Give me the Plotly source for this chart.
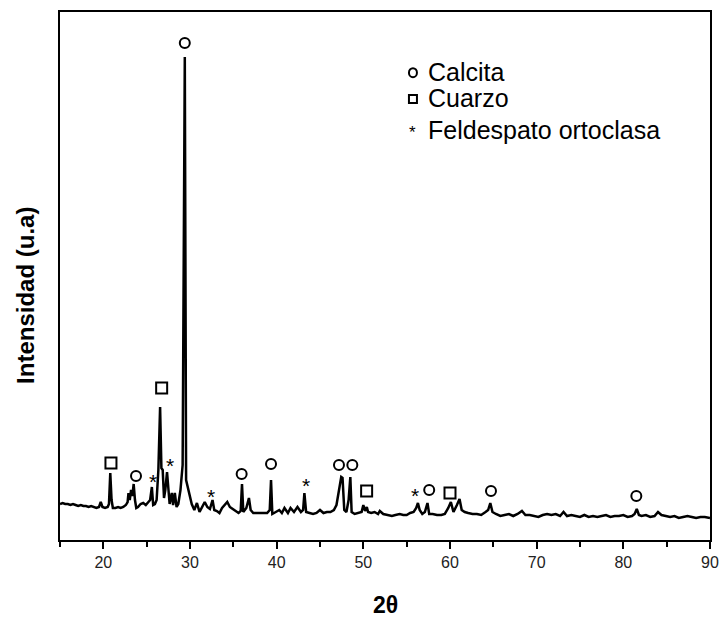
import plotly.graph_objects as go

# XRD trace (2theta, intensity in arbitrary units)
two_theta = [15.0, 15.3, 15.6, 15.9, 16.2, 16.5, 16.8, 17.1, 17.4, 17.7, 18.0, 18.3, 18.6, 18.9, 19.2, 19.5, 19.7, 19.9,
             20.2, 20.5, 20.65, 20.8, 20.95, 21.1, 21.4, 21.7, 22.0, 22.3, 22.6, 22.8, 22.9, 23.05, 23.2, 23.35, 23.5,
             23.65, 23.8, 24.0, 24.3, 24.6, 24.9, 25.2, 25.4, 25.6, 25.75, 25.95, 26.15, 26.35, 26.55, 26.7, 26.85,
             27.0, 27.15, 27.35, 27.5, 27.65, 27.9, 28.05, 28.25, 28.45, 28.65, 28.9, 29.15, 29.4, 29.55, 29.75,
             29.95, 30.2, 30.5, 30.8, 31.1, 31.4, 31.7, 32.0, 32.3, 32.6, 32.8, 33.1, 33.4, 33.7, 34.0, 34.3, 34.6,
             34.9, 35.2, 35.6, 35.85, 36.0, 36.15, 36.5, 36.8, 37.0, 37.3, 37.7, 38.1, 38.5, 38.9, 39.2, 39.35, 39.5,
             39.9, 40.3, 40.6, 40.9, 41.3, 41.6, 42.0, 42.4, 42.8, 43.05, 43.2, 43.4, 43.8, 44.2, 44.6, 45.0, 45.4,
             45.8, 46.2, 46.6, 46.9, 47.2, 47.45, 47.6, 47.8, 48.05, 48.3, 48.5, 48.65, 49.0, 49.4, 49.8, 50.0, 50.2,
             50.4, 50.55, 50.9, 51.3, 51.7, 51.9, 52.3, 52.8, 53.3, 53.7, 54.2, 54.6, 55.0, 55.4, 55.8, 56.1, 56.3,
             56.5, 56.8, 57.1, 57.4, 57.6, 58.0, 58.5, 59.0, 59.4, 59.8, 60.1, 60.4, 60.8, 61.1, 61.35, 61.7, 62.1,
             62.6, 63.1, 63.6, 64.1, 64.4, 64.65, 64.9, 65.3, 65.8, 66.3, 66.8, 67.3, 67.8, 68.3, 68.7, 69.2, 69.7,
             70.2, 70.7, 71.2, 71.7, 72.2, 72.7, 73.1, 73.5, 74.0, 74.5, 75.0, 75.5, 76.0, 76.5, 77.0, 77.5, 78.0,
             78.5, 79.0, 79.5, 80.0, 80.5, 81.0, 81.3, 81.55, 81.8, 82.1, 82.6, 83.1, 83.6, 84.0, 84.4, 84.9, 85.4,
             85.9, 86.4, 86.9, 87.4, 87.9, 88.4, 88.9, 89.4, 90.0]
intensity = [36, 37, 36, 36, 35, 36, 35, 34, 35, 34, 34, 33, 34, 33, 32, 33, 38, 33,
             32, 33, 36, 67, 40, 32, 32, 33, 32, 33, 35, 38, 47, 40, 50, 44, 56,
             40, 32, 33, 36, 37, 35, 38, 40, 53, 35, 36, 40, 70, 133, 72, 70,
             42, 50, 68, 46, 36, 47, 35, 47, 33, 36, 50, 75, 483, 60, 52,
             44, 36, 30, 37, 28, 33, 38, 33, 31, 40, 30, 29, 27, 32, 35, 38, 33,
             31, 29, 27, 29, 56, 28, 32, 42, 30, 27, 27, 27, 27, 27, 30, 60, 26,
             28, 30, 27, 32, 27, 32, 28, 33, 28, 30, 47, 28, 27, 26, 27, 30, 27,
             28, 28, 30, 35, 50, 63, 62, 30, 28, 40, 63, 28, 26, 27, 28, 35, 29,
             33, 28, 27, 28, 26, 29, 26, 25, 24, 25, 26, 25, 25, 27, 28, 32, 37,
             30, 26, 28, 37, 26, 26, 25, 25, 26, 32, 38, 28, 35, 41, 30, 28, 27,
             26, 26, 25, 28, 30, 37, 28, 26, 24, 25, 26, 24, 26, 29, 25, 25, 24,
             23, 25, 26, 25, 26, 24, 28, 24, 25, 24, 23, 25, 23, 24, 23, 24, 25,
             23, 24, 24, 25, 23, 24, 26, 31, 25, 24, 25, 23, 24, 28, 25, 24, 23,
             24, 22, 23, 24, 23, 22, 23, 23, 22]

# Phase markers (position in 2theta, height in same units)
calcita_x = [23.77, 29.4, 35.96, 39.35, 47.19, 48.73, 57.6, 64.73, 81.5]
calcita_y = [64, 497, 66, 76, 75, 75, 50, 49, 44]
cuarzo_x = [20.88, 26.73, 50.38, 60.0]
cuarzo_y = [77, 152, 49, 47]
feldespato_x = [25.77, 27.69, 32.42, 43.35, 55.96]
feldespato_y = [65, 81, 50, 61, 51]

legend_labels = ["Calcita", "Cuarzo", "Feldespato ortoclasa"]
x_ticks = [20, 30, 40, 50, 60, 70, 80, 90]

FONT = "Liberation Sans, Arial, sans-serif"

fig = go.Figure()
fig.add_trace(go.Scatter(x=two_theta, y=intensity, mode="lines",
                         line=dict(color="black", width=2.5), showlegend=False, hoverinfo="skip"))
fig.add_trace(go.Scatter(x=calcita_x, y=calcita_y, mode="markers", showlegend=False,
                         marker=dict(symbol="circle-open", size=10, color="black", line=dict(width=2, color="black"))))
fig.add_trace(go.Scatter(x=cuarzo_x, y=cuarzo_y, mode="markers", showlegend=False,
                         marker=dict(symbol="square-open", size=11, color="black", line=dict(width=2, color="black"))))

annotations = []
for xv, yv in zip(feldespato_x, feldespato_y):
    annotations.append(dict(x=xv, y=yv, xref="x", yref="y", text="*", showarrow=False,
                            font=dict(family=FONT, size=21, color="black"), yshift=-6))

# Manual legend
leg_x = 0.543
leg_ys = [0.886, 0.837, 0.777]
for lbl, ly in zip(legend_labels, leg_ys):
    annotations.append(dict(x=leg_x, y=ly, xref="paper", yref="paper", text=lbl, showarrow=False,
                            xanchor="left", yanchor="middle", xshift=13,
                            font=dict(family=FONT, size=25, color="black")))
annotations.append(dict(x=leg_x, y=leg_ys[2], xref="paper", yref="paper", text="*", showarrow=False,
                        xanchor="center", yanchor="middle", yshift=-3,
                        font=dict(family=FONT, size=17, color="black")))

shapes = [
    dict(type="circle", xref="paper", yref="paper", xsizemode="pixel", ysizemode="pixel",
         xanchor=leg_x, yanchor=leg_ys[0], x0=-4, x1=4, y0=-5, y1=4, line=dict(color="black", width=2)),
    dict(type="rect", xref="paper", yref="paper", xsizemode="pixel", ysizemode="pixel",
         xanchor=leg_x, yanchor=leg_ys[1], x0=-4, x1=4, y0=-5, y1=3, line=dict(color="black", width=2)),
]

# axis titles
annotations.append(dict(x=-0.054, y=0.464, xref="paper", yref="paper", text="<b>Intensidad (u.a)</b>",
                        showarrow=False, textangle=-90, xanchor="center", yanchor="middle",
                        font=dict(family=FONT, size=24, color="black")))
annotations.append(dict(x=0.5, y=-0.123, xref="paper", yref="paper", text="<b>2θ</b>",
                        showarrow=False, xanchor="center", yanchor="middle",
                        font=dict(family=FONT, size=23, color="black")))

fig.update_layout(
    width=722, height=617, autosize=False,
    margin=dict(l=60, r=12, t=12, b=77, autoexpand=False),
    plot_bgcolor="white", paper_bgcolor="white",
    annotations=annotations, shapes=shapes,
    showlegend=False,
)
fig.update_xaxes(range=[15, 90], tickvals=x_ticks, ticks="outside", ticklen=7, tickwidth=1.5,
                 tickcolor="black", showline=True, linecolor="black", linewidth=1.5, mirror=True,
                 showgrid=False, zeroline=False, automargin=False,
                 tickfont=dict(family=FONT, size=16, color="#222"),
                 minor=dict(tickvals=[15, 25, 35, 45, 55, 65, 75, 85], ticks="outside", ticklen=5,
                            tickwidth=1.5, tickcolor="black"))
fig.update_yaxes(range=[0, 528], showticklabels=False, ticks="", showline=True, linecolor="black",
                 linewidth=1.5, mirror=True, showgrid=False, zeroline=False, automargin=False)

post = ("document.body.style.margin='0';document.body.style.overflow='hidden';"
        "var gd=document.getElementById('{plot_id}');"
        "Plotly.relayout(gd,{width:722,height:617});")
fig.write_html("out.html", config={"displayModeBar": False, "responsive": False}, post_script=post)
